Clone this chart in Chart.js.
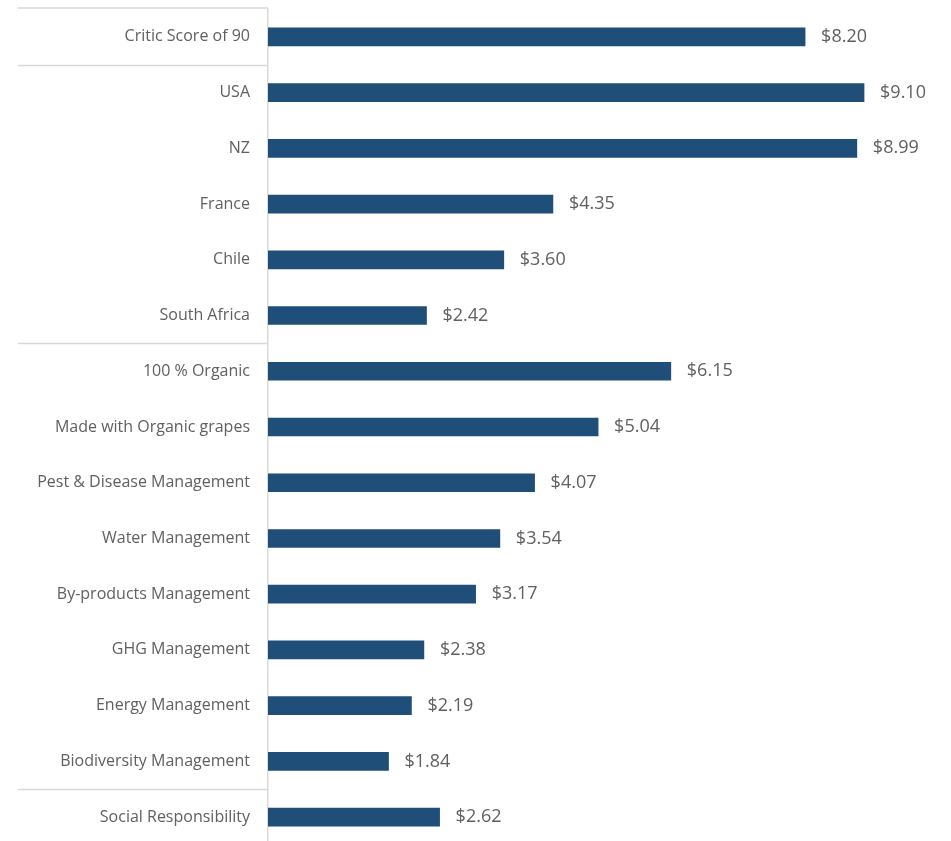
<!DOCTYPE html>
<html>
<head>
<meta charset="utf-8">
<script src="https://cdn.jsdelivr.net/npm/chart.js@4"></script>
<style>
  html, body { margin: 0; padding: 0; background: #fff; overflow: hidden; }
  #wrap { width: 951px; height: 846px; }
</style>
</head>
<body>
<div id="wrap"><canvas id="myChart"></canvas></div>
<script>
var categories = [
  "Critic Score of 90",
  "USA",
  "NZ",
  "France",
  "Chile",
  "South Africa",
  "100 % Organic",
  "Made with Organic grapes",
  "Pest & Disease Management",
  "Water Management",
  "By-products Management",
  "GHG Management",
  "Energy Management",
  "Biodiversity Management",
  "Social Responsibility"
];
var premiums = [8.20, 9.10, 8.99, 4.35, 3.60, 2.42, 6.15, 5.04, 4.07, 3.54, 3.17, 2.38, 2.19, 1.84, 2.62];
// group separators are drawn before these category indexes
var groupStarts = [0, 1, 6, 14];

var lineColor = "#d9d9d9";
var textColor = "#606060";
var fontFamily = "'Open Sans', sans-serif";

// separators + value labels
var extras = {
  id: "extras",
  afterDatasetsDraw: function(chart) {
    var ctx = chart.ctx;
    var y = chart.scales.y;
    var area = chart.chartArea;
    var step = y.getPixelForValue(1) - y.getPixelForValue(0);
    ctx.save();
    ctx.strokeStyle = lineColor;
    ctx.lineWidth = 1.5;
    groupStarts.forEach(function(i) {
      var py = Math.round(y.getPixelForValue(i) - step / 2) + 0.5;
      if (i === 0) py = area.top - 1;
      ctx.beginPath();
      ctx.moveTo(18, py);
      ctx.lineTo(area.left, py);
      ctx.stroke();
    });
    ctx.fillStyle = textColor;
    ctx.font = "18px " + fontFamily;
    ctx.textBaseline = "middle";
    ctx.textAlign = "left";
    chart.getDatasetMeta(0).data.forEach(function(bar, i) {
      ctx.fillText("$" + premiums[i].toFixed(2), bar.x + 16, bar.y);
    });
    ctx.restore();
  }
};

var ctx = document.getElementById("myChart").getContext("2d");
new Chart(ctx, {
  type: "bar",
  data: {
    labels: categories,
    datasets: [
      {
        data: premiums,
        backgroundColor: "#1f4e79",
        barThickness: 18
      }
    ]
  },
  options: {
    indexAxis: "y",
    responsive: true,
    maintainAspectRatio: false,
    animation: false,
    layout: { padding: { top: 9, right: 28, bottom: 1, left: 0 } },
    plugins: {
      legend: { display: false },
      tooltip: { enabled: false }
    },
    scales: {
      x: {
        display: false,
        min: 0,
        max: 10
      },
      y: {
        afterFit: function(scale) {
          scale.width = 268;
          // ticks.padding is meant for the horizontal gap only
          scale.paddingTop = 0;
          scale.paddingBottom = 0;
        },
        grid: { display: false, drawTicks: false },
        border: { display: true, color: lineColor, width: 1.5 },
        ticks: {
          padding: 18,
          color: textColor,
          font: { family: fontFamily, size: 16 }
        }
      }
    }
  },
  plugins: [extras]
});
</script>
</body>
</html>
